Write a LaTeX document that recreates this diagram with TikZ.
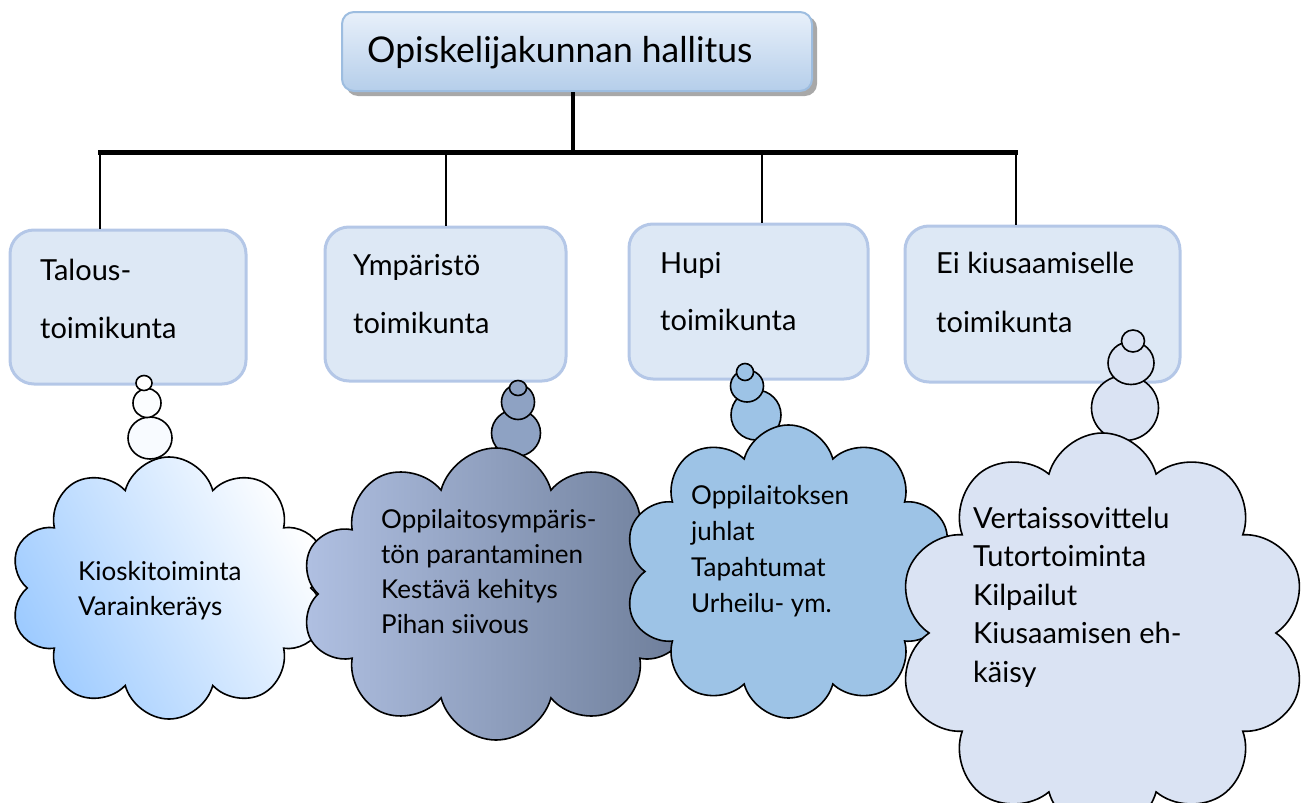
\documentclass[tikz,border=0pt]{standalone}
\usepackage{fontspec}
\setmainfont{Lato}
\usetikzlibrary{shapes.symbols}
\definecolor{boxfill}{HTML}{DDE8F5}
\definecolor{boxline}{HTML}{B4C7E7}
\definecolor{titletop}{HTML}{E8F0FA}
\definecolor{titlebot}{HTML}{B5CEEA}
\definecolor{titleline}{HTML}{9DBDE0}
\definecolor{shadowc}{HTML}{A8A8A8}
\definecolor{cloudA}{HTML}{9ECBFF}
\definecolor{cloudBl}{HTML}{B0C0E2}
\definecolor{cloudBr}{HTML}{6D7D99}
\definecolor{bubB}{HTML}{8EA2C3}
\definecolor{cloudC}{HTML}{9DC3E6}
\definecolor{cloudD}{HTML}{DAE3F3}
\begin{document}
\begin{tikzpicture}[x=1pt,y=-1pt,
  boxstyle/.style={draw=boxline, line width=3pt, fill=boxfill, rounded corners=24pt, inner sep=0pt},
  boxtext/.style={anchor=base west, inner sep=0pt, font=\fontsize{29}{32}\selectfont},
  cloudtext/.style={anchor=base west, inner sep=0pt, align=left, font=\fontsize{26}{35}\selectfont},
  cloudstyle/.style={cloud, cloud puffs=10, cloud ignores aspect, draw=black, line width=1.6pt, inner sep=0pt},
  bubble/.style={draw=black, line width=1.6pt},
  thinline/.style={line width=1.1pt},
  thickline/.style={line width=4pt},
]
\useasboundingbox (0,0) rectangle (1310,803);

% title
\fill[shadowc, rounded corners=12pt] (346,16) rectangle (817,96);
\node[draw=titleline, line width=2pt, rounded corners=12pt, top color=titletop, bottom color=titlebot,
      minimum width=470pt, minimum height=79pt, inner sep=0pt] (title) at (577,51.5) {};
\node[anchor=base west, inner sep=0pt, font=\fontsize{35.5}{40}\selectfont] (titletext) at (367,62) {Opiskelijakunnan hallitus};

% boxes
\node[boxstyle, minimum width=236pt, minimum height=154pt] (b1) at (128,307) {};
\node[boxstyle, minimum width=241pt, minimum height=154pt] (b2) at (445.5,304) {};
\node[boxstyle, minimum width=239pt, minimum height=155pt] (b3) at (748.5,301.5) {};
\node[boxstyle, minimum width=275pt, minimum height=156pt] (b4) at (1042.5,304) {};

% connectors
\coordinate (tjoin) at (573,152);
\coordinate (barL) at (98,152);
\coordinate (barR) at (1018,152);
\coordinate (d1) at (100,155);
\coordinate (d2) at (446,155);
\coordinate (d3) at (762,155);
\coordinate (d4) at (1016,155);
\draw[thickline] (title.south -| tjoin) -- (tjoin);
\draw[line width=5pt] (barL) -- (barR);
\draw[thinline] (d1) -- (d1 |- b1.north);
\draw[thinline] (d2) -- (d2 |- b2.north);
\draw[thinline] (d3) -- (d3 |- b3.north);
\draw[thinline] (d4) -- (d4 |- b4.north);

% box texts
\node[boxtext] (b1a) at (40,280) {Talous-};
\node[boxtext] (b1b) at (40,338) {toimikunta};
\node[boxtext] (b2a) at (353,275) {Ympäristö};
\node[boxtext] (b2b) at (353,333) {toimikunta};
\node[boxtext] (b3a) at (660,273) {Hupi};
\node[boxtext] (b3b) at (660,330) {toimikunta};
\node[boxtext] (b4a) at (936,273) {Ei kiusaamiselle};
\node[boxtext] (b4b) at (936,332) {toimikunta};

% cloud 1
\draw[bubble, fill=white!70!cloudA!25] (150,438) ellipse [x radius=22pt, y radius=21pt];
\draw[bubble, fill=white!80!cloudA!20] (147,403) ellipse [x radius=14pt, y radius=14.5pt];
\draw[bubble, fill=white] (144,383) ellipse [x radius=8pt, y radius=7.5pt];
\node[cloudstyle, minimum width=318pt, minimum height=262pt, top color=white, middle color=cloudA!40!white, bottom color=cloudA, shading angle=-62] (c1) at (169,588) {};
\node[cloudtext] (c1t) at (78,615) {Kioskitoiminta\\Varainkeräys};

% cloud 2
\draw[bubble, fill=bubB] (516,433) ellipse [x radius=24.5pt, y radius=23.5pt];
\draw[bubble, fill=bubB] (518,402) ellipse [x radius=16.5pt, y radius=17.5pt];
\draw[bubble, fill=bubB] (518,388) ellipse [x radius=8.5pt, y radius=7.5pt];
\node[cloudstyle, minimum width=390pt, minimum height=292pt, left color=cloudBl, right color=cloudBr] (c2) at (496,594) {};
\node[cloudtext] (c2t) at (381,633) {Oppilaitosympäris-\\tön parantaminen\\Kestävä kehitys\\Pihan siivous};

% cloud 3
\draw[bubble, fill=cloudC] (756,415) ellipse [x radius=25pt, y radius=25pt];
\draw[bubble, fill=cloudC] (747,386) ellipse [x radius=16.5pt, y radius=16pt];
\draw[bubble, fill=cloudC] (745,372) ellipse [x radius=8.5pt, y radius=8.5pt];
\node[cloudstyle, minimum width=329pt, minimum height=293pt, fill=cloudC] (c3) at (788.5,571.5) {};
\node[cloudtext, font=\fontsize{26}{35.7}\selectfont] (c3t) at (691,612) {Oppilaitoksen\\juhlat\\Tapahtumat\\Urheilu- ym.};

% cloud 4
\draw[bubble, fill=cloudD] (1125,408) ellipse [x radius=33.5pt, y radius=32.5pt];
\draw[bubble, fill=cloudD] (1131,363) ellipse [x radius=23pt, y radius=21.5pt];
\draw[bubble, fill=cloudD] (1133,341) ellipse [x radius=11.5pt, y radius=11pt];
\node[cloudstyle, minimum width=409pt, minimum height=400pt, fill=cloudD] (c4) at (1102.5,633) {};
\node[cloudtext, font=\fontsize{29}{38.5}\selectfont] (c4t) at (973,682) {Vertaissovittelu\\Tutortoiminta\\Kilpailut\\Kiusaamisen eh-\\käisy};
\end{tikzpicture}
\end{document}
